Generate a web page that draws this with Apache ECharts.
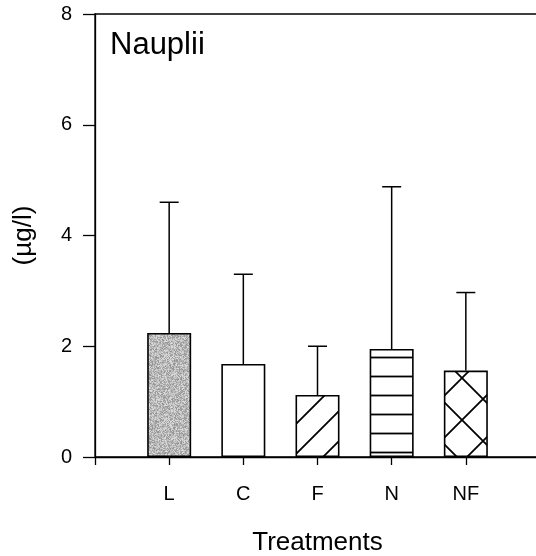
<!DOCTYPE html>
<html>
<head>
<meta charset="utf-8">
<script src="https://cdn.jsdelivr.net/npm/echarts@6/dist/echarts.min.js"></script>
<style>
  html, body { margin: 0; padding: 0; background: #fff; }
  #chart { width: 536px; height: 556px; }
</style>
</head>
<body>
<div id="chart"></div>
<script>
// Nauplii biomass per treatment: mean and standard deviation (µg/l)
const treatments = ['L', 'C', 'F', 'N', 'NF'];
const means = [2.24, 1.68, 1.12, 1.95, 1.56];
const sds = [2.36, 1.62, 0.88, 2.93, 1.41];
const yTicks = [0, 2, 4, 6, 8];

const FONT = '"Liberation Sans", Arial, Helvetica, sans-serif';

// Build a repeating fill tile on a small canvas
function tile(w, h, draw) {
  const c = document.createElement('canvas');
  c.width = w; c.height = h;
  const g = c.getContext('2d');
  g.fillStyle = '#fff';
  g.fillRect(0, 0, w, h);
  draw(g, w, h);
  return { image: c, repeat: 'repeat' };
}

function strokeSegs(g, segs, lw) {
  g.strokeStyle = '#000';
  g.lineWidth = lw;
  g.beginPath();
  segs.forEach(s => { g.moveTo(s[0], s[1]); g.lineTo(s[2], s[3]); });
  g.stroke();
}

// fine grey stipple (deterministic hash dither)
const stipple = tile(64, 64, (g, w, h) => {
  const img = g.createImageData(w, h);
  for (let i = 0; i < w * h; i++) {
    let s = Math.imul(i + 17, 2654435761) >>> 0;
    s ^= s >>> 13;
    s = Math.imul(s, 1274126177) >>> 0;
    s ^= s >>> 16;
    const v = 184 + (s % 40);
    img.data[i * 4] = v; img.data[i * 4 + 1] = v; img.data[i * 4 + 2] = v; img.data[i * 4 + 3] = 255;
  }
  g.putImageData(img, 0, 0);
});

const plain = '#ffffff';

// forward diagonal hatch
const diag = tile(30, 30, (g, w, h) => {
  strokeSegs(g, [[-3, h + 3, w + 3, -3], [-3, 3, 3, -3], [w - 3, h + 3, w + 3, h - 3]], 1.8);
});

// horizontal stripes
const horiz = tile(19, 19, (g, w, h) => {
  strokeSegs(g, [[0, 15.5, w, 15.5]], 1.8);
});

// cross hatch
const cross = tile(42, 42, (g, w, h) => {
  strokeSegs(g, [
    [-3, h + 3, w + 3, -3], [-3, 3, 3, -3], [w - 3, h + 3, w + 3, h - 3],
    [-3, -3, w + 3, h + 3], [w - 3, -3, w + 3, 3], [-3, h - 3, 3, h + 3]
  ], 1.8);
});

const fills = [stipple, plain, diag, horiz, cross];

const chart = echarts.init(document.getElementById('chart'), null, { renderer: 'canvas' });

chart.setOption({
  animation: false,
  backgroundColor: '#fff',
  textStyle: { fontFamily: FONT, color: '#000' },
  grid: {
    left: 95, top: 14, right: -4, bottom: 99,
    outerBoundsMode: 'none', containLabel: false,
    show: true, borderColor: '#000', borderWidth: 1.3, backgroundColor: 'transparent'
  },
  graphic: [{
    type: 'text', left: 110, top: 30,
    style: { text: 'Nauplii', font: '31px ' + FONT, fill: '#000' }
  }],
  xAxis: {
    type: 'value', min: 0, max: 6, interval: 1,
    name: 'Treatments', nameLocation: 'middle', nameGap: 73,
    nameTextStyle: { fontSize: 26, fontFamily: FONT, color: '#000' },
    axisLine: { lineStyle: { color: '#000', width: 1.3 } },
    axisTick: { show: true, length: 8, lineStyle: { color: '#000', width: 1.3 } },
    axisLabel: {
      margin: 27, fontSize: 20, fontFamily: FONT, color: '#000',
      formatter: v => treatments[v - 1] || ''
    },
    splitLine: { show: false }
  },
  yAxis: {
    type: 'value', min: yTicks[0], max: yTicks[yTicks.length - 1], interval: 2,
    name: '(µg/l)', nameLocation: 'middle', nameGap: 58, nameRotate: 90,
    nameTextStyle: { fontSize: 26, fontFamily: FONT, color: '#000' },
    axisLine: { show: true, lineStyle: { color: '#000', width: 1.3 } },
    axisTick: { show: true, length: 12, lineStyle: { color: '#000', width: 1.3 } },
    axisLabel: { margin: 23, fontSize: 20, fontFamily: FONT, color: '#000' },
    splitLine: { show: false }
  },
  series: [
    {
      type: 'bar',
      barWidth: 44,
      z: 2,
      data: treatments.map((t, i) => ({
        value: [i + 1, means[i]],
        itemStyle: { color: fills[i], borderColor: '#000', borderWidth: 1.6 }
      }))
    },
    {
      type: 'custom',
      z: 3,
      encode: { x: 0, y: [1, 2] },
      data: treatments.map((t, i) => [i + 1, means[i], means[i] + sds[i]]),
      renderItem(params, api) {
        const x = api.value(0);
        const base = api.coord([x, api.value(1)]);
        const top = api.coord([x, api.value(2)]);
        const hw = 9.5;
        const st = { stroke: '#000', lineWidth: 1.5 };
        return {
          type: 'group',
          children: [
            { type: 'line', shape: { x1: base[0], y1: base[1], x2: top[0], y2: top[1] }, style: st },
            { type: 'line', shape: { x1: top[0] - hw, y1: top[1], x2: top[0] + hw, y2: top[1] }, style: st }
          ]
        };
      }
    }
  ]
});
</script>
</body>
</html>
